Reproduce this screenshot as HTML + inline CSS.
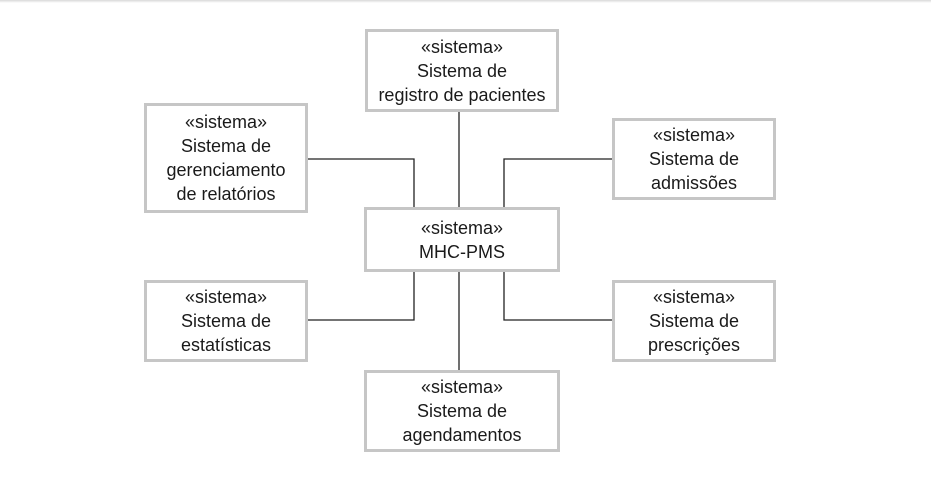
<!DOCTYPE html>
<html><head><style>
html,body{margin:0;padding:0;width:931px;height:493px;background:#fff;overflow:hidden;position:relative;font-family:"Liberation Sans","DejaVu Sans",sans-serif}
.top{position:absolute;left:0;top:0;width:931px;height:3px;background:linear-gradient(#d8d8d8,#fff)}
.b{position:absolute;box-sizing:border-box;border:3px solid #c6c6c6;background:#fff;display:flex;flex-direction:column;justify-content:center;align-items:center;text-align:center;font-size:18px;line-height:24px;color:#1a1a1a;white-space:nowrap}
svg{position:absolute;left:0;top:0}
</style></head><body>
<div class="top"></div>
<svg width="931" height="493">
<g stroke="#222" stroke-width="1.3" fill="none">
<line x1="459" y1="111" x2="459" y2="207"/>
<polyline points="307,159 414,159 414,207"/>
<polyline points="612,159 504,159 504,207"/>
<line x1="459" y1="271" x2="459" y2="370"/>
<polyline points="414,271 414,320 307,320"/>
<polyline points="504,271 504,320 612,320"/>
</g>
</svg>
<div class="b" style="left:365px;top:29px;width:194px;height:83px">«sistema»<br>Sistema de<br>registro de pacientes</div>
<div class="b" style="left:144px;top:103px;width:164px;height:110px">«sistema»<br>Sistema de<br>gerenciamento<br>de relatórios</div>
<div class="b" style="left:364px;top:207px;width:196px;height:65px">«sistema»<br>MHC-PMS</div>
<div class="b" style="left:612px;top:118px;width:164px;height:82px">«sistema»<br>Sistema de<br>admissões</div>
<div class="b" style="left:144px;top:280px;width:164px;height:82px">«sistema»<br>Sistema de<br>estatísticas</div>
<div class="b" style="left:612px;top:280px;width:164px;height:82px">«sistema»<br>Sistema de<br>prescrições</div>
<div class="b" style="left:364px;top:370px;width:196px;height:82px">«sistema»<br>Sistema de<br>agendamentos</div>
</body></html>
